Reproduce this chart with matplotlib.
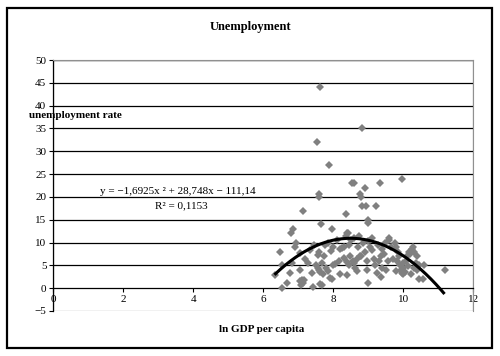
import matplotlib.pyplot as plt
from matplotlib.patches import Rectangle
import numpy as np

# ln GDP per capita vs unemployment rate
ln_gdp = [
    7.63, 8.81, 7.53, 7.89, 9.95, 8.53, 8.60, 9.33, 8.90, 7.58, 7.60, 8.76, 8.80,
    7.12, 8.36, 8.82, 8.92, 9.22, 9.00, 8.98, 7.64, 6.84, 6.80, 7.95, 8.42, 9.60,
    6.33, 6.48, 6.52, 6.52, 6.67, 6.76, 6.81, 6.90, 6.93, 7.05, 7.05, 7.10, 7.13,
    7.05, 7.17, 7.08, 7.20, 7.29, 7.33, 7.38, 7.45, 7.42,
    7.55, 7.60, 7.50, 7.55, 7.62, 7.67, 7.58, 7.62, 7.67, 7.70, 7.72, 7.80, 7.86,
    7.90, 7.95, 7.93, 8.00, 7.98, 7.85, 7.75,
    8.05, 8.10, 8.15, 8.20, 8.25, 8.30, 8.35, 8.38, 8.40, 8.45, 8.30, 8.20, 8.45,
    8.40, 8.50, 8.48,
    8.55, 8.60, 8.62, 8.67, 8.67, 8.75, 8.80, 8.70, 8.85, 8.90, 8.95, 8.58, 8.72,
    9.00, 8.95,
    9.05, 9.10, 9.00, 9.10, 9.15, 9.20, 9.24, 9.30, 9.28, 9.35, 9.40, 9.45, 9.40,
    9.50, 9.48, 9.35,
    9.55, 9.60, 9.65, 9.70, 9.75, 9.80, 9.82, 9.85, 9.90, 9.92, 9.95, 9.98, 10.00,
    10.00, 9.88, 9.78,
    10.05, 10.08, 10.10, 10.15, 10.20, 10.25, 10.28, 10.30, 10.30, 10.35, 10.40,
    10.45, 10.45, 10.55, 10.60, 10.38, 10.12, 10.22,
    11.19,
]
unemployment = [
    44, 35, 32, 27, 24, 23, 23, 23, 22, 20.6, 20, 20.6, 20,
    17, 16.3, 18, 18, 18, 15, 14.3, 14.1, 12.9, 12.1, 13, 12, 11,
    2.9, 8, 5.1, 0, 1.1, 3.3, 5.5, 9.1, 9.9, 7.7, 4, 1.8, 1.2,
    1.5, 1.8, 0.8, 6.5, 5.5, 8.4, 3.3, 9.5, 0.3,
    7.3, 8, 5, 4.4, 3.5, 5.5, 4, 1, 0.6, 3, 7, 4.5, 3.8,
    2.2, 2, 8.2, 9, 5, 10, 9.5,
    5.3, 10.5, 6, 8.5, 8.8, 9, 11.5, 2.9, 5.8, 5, 6.7, 3, 9.5,
    12.2, 10.5, 7,
    6, 5.5, 4.4, 3.8, 6.5, 7, 7, 9, 10, 8, 6, 11, 11.5,
    1.1, 4,
    9, 8.4, 10.4, 11, 6.5, 5, 3.3, 6, 9.5, 7, 8.5, 7.5, 4.4,
    4, 10, 2.5,
    6, 10.5, 9, 6.5, 10, 9, 6, 8, 5, 4, 3.3, 4.5, 5.5,
    3, 7, 3.8,
    3.5, 6, 7, 8, 7.5, 8.5, 9, 8, 4.5, 5.5, 4,
    5, 2, 2, 5, 7, 4.8, 3.2,
    4,
]

# polynomial trendline shown on the chart
trend_coef = [-1.6925, 28.748, -111.14]
trend_range = [6.35, 11.15]
trend_label = "y = \u22121,6925x \u00b2 + 28,748x \u2212 111,14"
r2_label = "R\u00b2 = 0,1153"

plt.rcParams['font.family'] = ['Liberation Serif', 'DejaVu Serif']

fig = plt.figure(figsize=(5, 3.56), dpi=100)
fig.patches.append(Rectangle((7 / 500, 1 - 348 / 356), 485 / 500, 340 / 356,
                             transform=fig.transFigure, fill=False,
                             edgecolor='black', linewidth=1.6))

ax = fig.add_axes([53.3 / 500, 45 / 356, 420 / 500, 251 / 356])
ax.set_xlim(0, 12)
ax.set_ylim(-5, 50)
ax.set_xticks(range(0, 13, 2))
ax.set_yticks(range(-5, 51, 5))

for v in range(5, 51, 5):
    ax.axhline(v, color='black', linewidth=0.9, zorder=1)

for side in ['top', 'right']:
    ax.spines[side].set_color('#909090')
ax.spines['bottom'].set_position(('data', 0))
ax.spines['bottom'].set_linewidth(0.9)
ax.spines['left'].set_linewidth(0.9)
ax.add_patch(Rectangle((0, 0), 1, 1, transform=ax.transAxes, fill=False,
                       edgecolor='#909090', linewidth=0.9, zorder=0))

ax.tick_params(axis='both', direction='out', length=3, width=0.8,
               labelsize=8, pad=2)

ax.plot(ln_gdp, unemployment, linestyle='none', marker='D', markersize=4.5,
        color='#808080', markeredgewidth=0, zorder=3)

xs = np.linspace(trend_range[0], trend_range[1], 200)
ax.plot(xs, np.polyval(trend_coef, xs), color='black', linewidth=2.2, zorder=4)

ax.text(3.56, 21.1, trend_label, ha='center', va='center', fontsize=8, zorder=5)
ax.text(3.65, 18.0, r2_label, ha='center', va='center', fontsize=8, zorder=5)

fig.text(0.5, 1 - 27 / 356, "Unemployment", ha='center', va='center',
         fontsize=9, fontweight='bold')
fig.text(29 / 500, 1 - 116 / 356, "unemployment rate", ha='left', va='center',
         fontsize=8, fontweight='bold')
fig.text(262 / 500, 1 - 329 / 356, "ln GDP per capita", ha='center', va='center',
         fontsize=8, fontweight='bold')

fig.savefig("out.png", dpi=100)
